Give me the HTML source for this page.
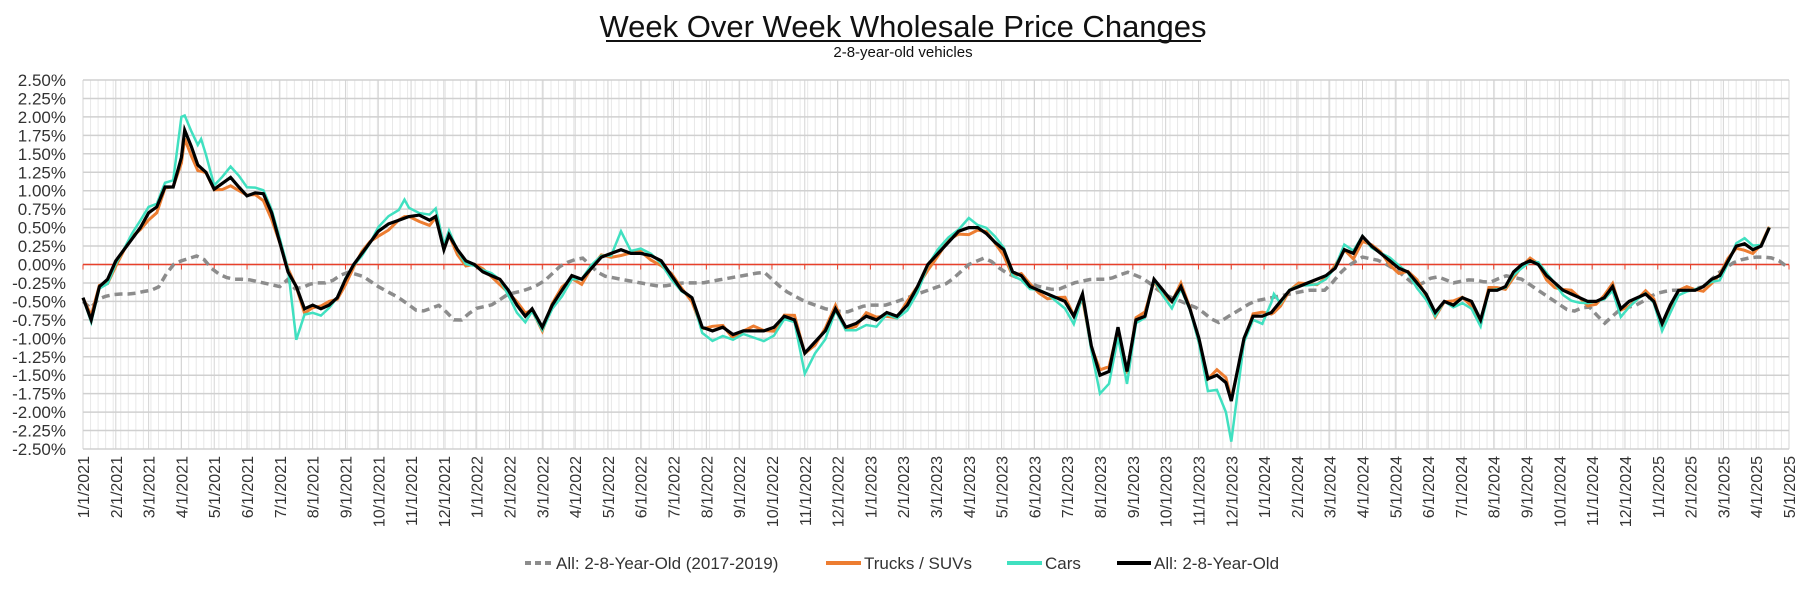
<!DOCTYPE html>
<html><head><meta charset="utf-8"><style>
html,body{margin:0;padding:0;background:#fff;}
body{width:1806px;height:590px;overflow:hidden;font-family:"Liberation Sans Narrow","Liberation Sans",sans-serif;}
</style></head><body>
<svg id="s" width="1806" height="590" xmlns="http://www.w3.org/2000/svg" font-family="Liberation Sans Narrow, Liberation Sans, sans-serif">
<text x="903" y="37" text-anchor="middle" font-size="31" fill="#111">Week Over Week Wholesale Price Changes</text>
<line x1="606" y1="41" x2="1201" y2="41" stroke="#111" stroke-width="2"/>
<text x="903" y="57" text-anchor="middle" font-size="15" fill="#111">2-8-year-old vehicles</text>
<g id="grid"></g><g id="ser"></g><g id="lab"></g>
<g font-size="17" fill="#333">
<line x1="525" y1="563" x2="553" y2="563" stroke="#8c8c8c" stroke-width="4" stroke-dasharray="6,4"/>
<text x="556" y="569">All: 2-8-Year-Old (2017-2019)</text>
<line x1="826" y1="563" x2="861" y2="563" stroke="#ed7d31" stroke-width="4"/>
<text x="864" y="569">Trucks / SUVs</text>
<line x1="1007" y1="563" x2="1042" y2="563" stroke="#40e0c0" stroke-width="4"/>
<text x="1045" y="569">Cars</text>
<line x1="1117" y1="563" x2="1151" y2="563" stroke="#000" stroke-width="4"/>
<text x="1154" y="569">All: 2-8-Year-Old</text>
</g>
</svg>
<script>
var NS="http://www.w3.org/2000/svg",L=83,R=1789,T=80,B=449,Z=264.5,K=73.8,M=(R-L)/52;
function el(p,n,a){var e=document.createElementNS(NS,n);for(var k in a)e.setAttribute(k,a[k]);p.appendChild(e);return e;}
function X(t){return L+t*M;}function Y(v){return Z-v*K;}
var g=document.getElementById('grid'),lab=document.getElementById('lab');
for(var w=0;w<=226;w++){var x=L+w*(R-L)/226;el(g,'line',{x1:x,y1:T,x2:x,y2:B,stroke:'#e8e8e8','stroke-width':1});}
for(var i=0;i<=52;i++){el(g,'line',{x1:X(i),y1:T,x2:X(i),y2:B,stroke:'#d4d4d4','stroke-width':1});}
for(var j=0;j<=20;j++){var v=2.5-j*0.25,y=Y(v);el(g,'line',{x1:L,y1:y,x2:R,y2:y,stroke:'#d0d0d0','stroke-width':1.5});
var tx=el(lab,'text',{x:66,y:y+6,'text-anchor':'end','font-size':17,fill:'#333'});tx.textContent=(v<0?'-':'')+Math.abs(v).toFixed(2)+'%';}
el(g,'line',{x1:L,y1:Z,x2:R,y2:Z,stroke:'#e8402a','stroke-width':1.5});
for(var i=0;i<=52;i++)el(g,'line',{x1:X(i),y1:Z,x2:X(i),y2:Z+5,stroke:'#e8402a','stroke-width':1});
for(var i=0;i<=52;i++){var mo=i%12+1,yr=2021+Math.floor(i/12);var tx=el(lab,'text',{x:0,y:0,'text-anchor':'end','font-size':16,fill:'#333',transform:'translate('+(X(i)+6)+',456) rotate(-90)'});tx.textContent=mo+'/1/'+yr;}
var map=[[0,0],[9,9],[10.6,11],[13.5,14],[16,17],[20,22],[24,27],[27.75,31],[31.4,35],[35,39],[38.25,42.6],[47,51.4],[48,52]];
function mp(t){for(var i=1;i<map.length;i++){if(t<=map[i][0]){var a=map[i-1],b=map[i];return a[1]+(t-a[0])/(b[0]-a[0])*(b[1]-a[1]);}}return t;}
function kp(arr){var o=[];for(var i=0;i<arr.length;i+=2)o.push([mp(arr[i]),arr[i+1]]);return o;}
function interp(p,t){if(t<=p[0][0])return p[0][1];for(var i=1;i<p.length;i++)if(t<=p[i][0]){var a=p[i-1],b=p[i];return a[1]+(t-a[0])/(b[0]-a[0])*(b[1]-a[1]);}return p[p.length-1][1];}
var blk=kp([0,-0.45,0.25,-0.75,0.5,-0.3,0.75,-0.2,1,0.05,1.25,0.2,1.5,0.35,1.75,0.5,2,0.7,2.25,0.78,2.5,1.05,2.75,1.05,3,1.45,3.1,1.82,3.3,1.6,3.5,1.35,3.75,1.25,4,1.02,4.25,1.1,4.5,1.18,4.75,1.05,5,0.93,5.25,0.97,5.5,0.96,5.75,0.7,6,0.3,6.25,-0.1,6.5,-0.3,6.75,-0.6,7,-0.55,7.25,-0.6,7.5,-0.55,7.75,-0.45,8,-0.2,8.25,0,8.5,0.15,8.75,0.3,9,0.45,9.25,0.55,9.5,0.6,9.75,0.65,10,0.67,10.25,0.6,10.4,0.65,10.6,0.2,10.75,0.4,11,0.2,11.25,0.05,11.5,0,11.75,-0.1,12,-0.15,12.25,-0.2,12.5,-0.35,12.75,-0.55,13,-0.7,13.2,-0.6,13.5,-0.85,13.75,-0.55,14,-0.35,14.25,-0.15,14.5,-0.2,14.75,-0.05,15,0.1,15.25,0.15,15.5,0.2,15.75,0.15,16,0.15,16.25,0.12,16.5,0.05,16.75,-0.15,17,-0.35,17.25,-0.45,17.5,-0.85,17.75,-0.9,18,-0.85,18.25,-0.95,18.5,-0.9,18.75,-0.9,19,-0.9,19.25,-0.85,19.5,-0.7,19.75,-0.75,20,-1.2,20.25,-1.05,20.5,-0.9,20.75,-0.6,21,-0.85,21.25,-0.8,21.5,-0.7,21.75,-0.75,22,-0.65,22.25,-0.7,22.5,-0.55,22.75,-0.3,23,0,23.25,0.15,23.5,0.3,23.75,0.45,24,0.5,24.25,0.5,24.5,0.42,24.75,0.3,25,0.2,25.25,-0.1,25.5,-0.15,25.75,-0.3,26,-0.35,26.25,-0.4,26.5,-0.45,26.75,-0.5,27,-0.7,27.25,-0.4,27.5,-1.1,27.75,-1.5,28,-1.45,28.25,-0.85,28.5,-1.45,28.75,-0.75,29,-0.7,29.25,-0.2,29.5,-0.35,29.75,-0.5,30,-0.3,30.25,-0.6,30.5,-1.0,30.75,-1.55,31,-1.5,31.25,-1.6,31.4,-1.85,31.75,-1.0,32,-0.7,32.25,-0.7,32.5,-0.65,32.75,-0.5,33,-0.35,33.25,-0.3,33.5,-0.25,33.75,-0.2,34,-0.15,34.25,-0.05,34.5,0.2,34.75,0.15,35,0.38,35.25,0.25,35.5,0.15,35.75,0.05,36,-0.05,36.25,-0.1,36.5,-0.25,36.75,-0.4,37,-0.65,37.25,-0.5,37.5,-0.55,37.75,-0.45,38,-0.5,38.25,-0.75,38.5,-0.35,38.75,-0.35,39,-0.3,39.25,-0.1,39.5,0,39.75,0.05,40,0,40.25,-0.15,40.5,-0.25,40.75,-0.35,41,-0.4,41.25,-0.45,41.5,-0.5,41.75,-0.5,42,-0.45,42.25,-0.3,42.5,-0.6,42.75,-0.5,43,-0.45,43.25,-0.4,43.5,-0.5,43.75,-0.8,44,-0.55,44.25,-0.35,44.5,-0.35,44.75,-0.35,45,-0.3,45.25,-0.2,45.5,-0.15,45.75,0.05,46,0.25,46.25,0.28,46.5,0.2,46.75,0.25,47,0.5]);
var gry=kp([0,-0.5,0.25,-0.6,0.5,-0.45,1,-0.4,1.5,-0.4,2,-0.35,2.25,-0.35,2.5,-0.15,2.75,0,3,0.05,3.5,0.12,3.75,0.05,4,-0.1,4.5,-0.2,5,-0.2,5.5,-0.25,6,-0.3,6.25,-0.2,6.5,-0.35,7,-0.25,7.5,-0.25,8,-0.1,8.5,-0.15,9,-0.3,9.5,-0.45,10,-0.65,10.25,-0.6,10.5,-0.55,11,-0.8,11.5,-0.6,12,-0.55,12.5,-0.4,13,-0.35,13.5,-0.25,14,0,14.5,0.1,15,-0.15,15.5,-0.2,16,-0.25,16.5,-0.3,17,-0.25,17.5,-0.25,18,-0.2,18.5,-0.15,19,-0.1,19.5,-0.35,20,-0.5,20.5,-0.6,21,-0.65,21.5,-0.55,22,-0.55,22.5,-0.45,23,-0.35,23.5,-0.25,24,0,24.5,0.1,25,-0.1,25.5,-0.2,26,-0.3,26.5,-0.35,27,-0.25,27.5,-0.2,28,-0.2,28.5,-0.1,29,-0.2,29.5,-0.4,30,-0.5,30.5,-0.6,31,-0.8,31.5,-0.65,32,-0.5,32.5,-0.45,33,-0.4,33.5,-0.35,34,-0.35,34.5,-0.05,35,0.1,35.5,0.05,36,-0.1,36.5,-0.3,37,-0.15,37.5,-0.25,38,-0.2,38.5,-0.25,39,-0.15,39.5,-0.2,40,-0.35,40.5,-0.5,41,-0.65,41.5,-0.55,42,-0.8,42.5,-0.6,43,-0.55,43.5,-0.4,44,-0.35,44.5,-0.35,45,-0.3,45.5,-0.1,46,0.05,46.5,0.1,47,0.1,47.5,0.05,48,-0.05]);
var spikes=[[3.0,2.0],[3.6,1.7],[6.5,-1.02],[9.8,0.88],[16.4,0.45],[22,-1.48],[27,0.63],[31,-1.75],[35,-2.4],[36.3,-0.4]];
var ser=document.getElementById('ser');
var times=blk.map(function(p){return p[0];});
spikes.forEach(function(s){times.push(s[0]);});
times.sort(function(a,b){return a-b;});
function pts(f,tl){return tl.map(function(t){return X(t).toFixed(1)+','+Y(f(t)).toFixed(1);}).join(' ');}
var gt=[];for(var t=0;t<=52.0001;t+=12/52)gt.push(t);
el(ser,'polyline',{points:pts(function(t){return interp(gry,t);},gt),fill:'none',stroke:'#8c8c8c','stroke-width':3.5,'stroke-dasharray':'8,5'});
el(ser,'polyline',{points:pts(function(t){var v=interp(blk,t);return v*0.97+0.06*Math.sin(t*5.3)-0.02;},times),fill:'none',stroke:'#ed7d31','stroke-width':3});
el(ser,'polyline',{points:pts(function(t){var v=interp(blk,t)*1.1+0.05*Math.sin(t*4.1+1);for(var i=0;i<spikes.length;i++){var d=Math.abs(t-spikes[i][0]);if(d<0.25){var a=1-d/0.25;v=v*(1-a)+spikes[i][1]*a;}}return v;},times),fill:'none',stroke:'#40e0c0','stroke-width':2.5});
el(ser,'polyline',{points:pts(function(t){return interp(blk,t);},blk.map(function(p){return p[0];})),fill:'none',stroke:'#000','stroke-width':3.2});
</script>
</body></html>
